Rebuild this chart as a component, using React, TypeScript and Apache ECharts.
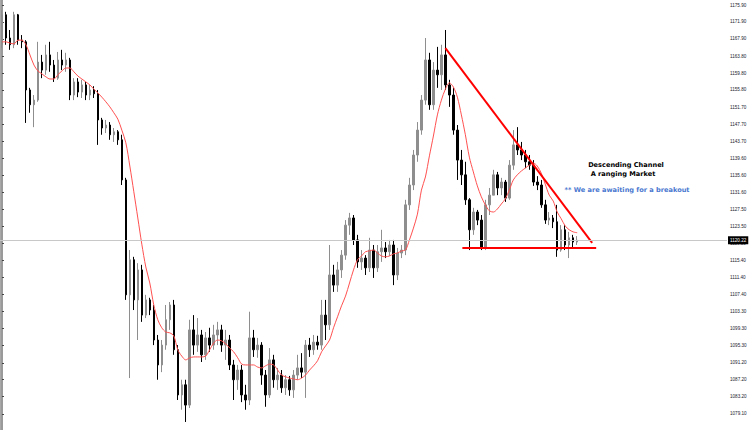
import React, { useEffect, useRef } from "react";
import * as echarts from "echarts";

const totalSlots = 182;

const opens = [
  1166.5, 1173.6, 1168.1, 1166.5, 1173.6, 1167.6, 1167.2, 1155.8, 1152.3, 1153.4,
  1162.4, 1160.5, 1164.1, 1161.7, 1158.6, 1162.9, 1161.7, 1162.9, 1154.6, 1157.7,
  1155.3, 1157.0, 1154.6, 1155.8, 1154.9, 1148.7, 1146.8, 1147.5, 1145.2, 1145.9,
  1144.0, 1134.5, 1107.3, 1115.6, 1106.1, 1113.2, 1102.5, 1106.1, 1103.7, 1096.6,
  1090.7, 1095.4, 1101.4, 1104.9, 1094.3, 1083.6, 1086.0, 1081.2, 1099.0, 1095.4,
  1097.8, 1093.1, 1097.1, 1095.4, 1097.8, 1099.0, 1095.4, 1096.6, 1090.7, 1087.2,
  1089.5, 1083.6, 1082.4, 1097.1, 1094.3, 1095.4, 1088.3, 1083.6, 1091.9, 1087.2,
  1088.3, 1085.3, 1087.2, 1084.8, 1088.3, 1090.0, 1089.0, 1095.4, 1094.3, 1096.1,
  1095.4, 1102.5, 1100.2, 1112.0, 1109.6, 1113.2, 1116.7, 1123.8, 1125.5, 1120.3,
  1115.1, 1116.0, 1113.7, 1117.9, 1113.7, 1117.5, 1118.4, 1117.5, 1119.1, 1112.0,
  1117.2, 1117.9, 1128.6, 1133.3, 1140.4, 1146.3, 1153.4, 1162.9, 1152.3, 1160.5,
  1159.4, 1164.1, 1157.0, 1154.6, 1146.3, 1139.2, 1135.7, 1129.8, 1122.7, 1126.9,
  1125.0, 1118.4, 1128.6, 1130.9, 1135.7, 1132.6, 1134.0, 1130.2, 1138.0, 1142.8,
  1141.6, 1140.4, 1138.8, 1138.0, 1134.0, 1133.3, 1128.6, 1125.0, 1125.5, 1124.6,
  1117.9, 1122.7, 1119.1, 1120.8, 1119.8,
];

const closes = [
  1173.6, 1168.1, 1166.5, 1173.6, 1167.6, 1167.2, 1155.8, 1152.3, 1153.4, 1162.4,
  1160.5, 1164.1, 1161.7, 1158.6, 1162.9, 1161.7, 1162.9, 1154.6, 1157.7, 1155.3,
  1157.0, 1154.6, 1155.8, 1154.9, 1148.7, 1146.8, 1147.5, 1145.2, 1145.9, 1144.0,
  1134.5, 1107.3, 1115.6, 1106.1, 1113.2, 1102.5, 1106.1, 1103.7, 1096.6, 1090.7,
  1095.4, 1101.4, 1104.9, 1094.3, 1083.6, 1086.0, 1081.2, 1099.0, 1095.4, 1097.8,
  1093.1, 1097.1, 1095.4, 1097.8, 1099.0, 1095.4, 1096.6, 1090.7, 1087.2, 1089.5,
  1083.6, 1082.4, 1097.1, 1094.3, 1095.4, 1088.3, 1083.6, 1091.9, 1087.2, 1088.3,
  1085.3, 1087.2, 1084.8, 1088.3, 1090.0, 1089.0, 1095.4, 1094.3, 1096.1, 1095.4,
  1102.5, 1100.2, 1112.0, 1109.6, 1113.2, 1116.7, 1123.8, 1125.5, 1120.3, 1115.1,
  1116.0, 1113.7, 1117.9, 1113.7, 1117.5, 1118.4, 1117.5, 1119.1, 1112.0, 1117.2,
  1117.9, 1128.6, 1133.3, 1140.4, 1146.3, 1153.4, 1162.9, 1152.3, 1160.5, 1159.4,
  1164.1, 1157.0, 1154.6, 1146.3, 1139.2, 1135.7, 1129.8, 1122.7, 1126.9, 1125.0,
  1118.4, 1128.6, 1130.9, 1135.7, 1132.6, 1134.0, 1130.2, 1138.0, 1142.8, 1141.6,
  1140.4, 1138.8, 1138.0, 1134.0, 1133.3, 1128.6, 1125.0, 1125.5, 1124.6, 1117.9,
  1122.7, 1119.1, 1120.8, 1119.8, 1120.22,
];

const lows = [
  1165.7, 1166.5, 1165.3, 1165.7, 1166.5, 1165.7, 1148.0, 1150.4, 1147.0, 1153.0,
  1158.6, 1159.4, 1160.1, 1157.7, 1158.2, 1160.5, 1160.1, 1153.4, 1153.4, 1154.1,
  1153.9, 1153.4, 1153.4, 1153.9, 1142.8, 1145.2, 1145.6, 1144.0, 1143.5, 1142.8,
  1133.3, 1106.1, 1087.6, 1103.7, 1096.6, 1100.9, 1101.8, 1102.5, 1095.4, 1087.2,
  1089.0, 1094.3, 1099.0, 1093.1, 1082.4, 1080.1, 1077.2, 1080.5, 1093.1, 1093.8,
  1091.4, 1091.9, 1093.8, 1094.3, 1095.4, 1093.8, 1091.9, 1089.5, 1082.4, 1084.8,
  1081.9, 1080.1, 1081.2, 1092.6, 1092.4, 1086.0, 1080.8, 1082.9, 1085.3, 1084.8,
  1084.1, 1083.6, 1083.4, 1082.9, 1087.2, 1087.6, 1082.9, 1092.6, 1093.1, 1094.3,
  1094.3, 1096.6, 1099.0, 1108.0, 1108.0, 1111.3, 1115.6, 1121.5, 1119.1, 1113.7,
  1113.2, 1112.0, 1112.7, 1111.3, 1112.7, 1115.1, 1116.0, 1116.5, 1109.6, 1110.8,
  1116.0, 1116.7, 1127.4, 1132.1, 1138.8, 1145.2, 1152.3, 1151.1, 1151.1, 1156.3,
  1155.8, 1155.8, 1151.8, 1145.2, 1134.5, 1133.3, 1128.6, 1117.9, 1121.5, 1123.8,
  1117.9, 1117.9, 1126.2, 1130.9, 1130.9, 1130.9, 1129.3, 1129.8, 1136.9, 1140.4,
  1139.2, 1137.3, 1136.9, 1133.1, 1132.1, 1127.9, 1124.1, 1123.8, 1123.1, 1116.3,
  1117.5, 1117.9, 1116.0, 1118.4, 1119.1,
];

const highs = [
  1174.7, 1174.3, 1170.0, 1174.3, 1173.8, 1168.8, 1167.6, 1156.3, 1154.6, 1167.2,
  1164.1, 1166.5, 1167.2, 1162.9, 1164.8, 1165.3, 1164.6, 1163.4, 1158.6, 1158.6,
  1158.2, 1157.7, 1157.0, 1156.7, 1155.8, 1149.2, 1148.7, 1148.2, 1146.8, 1146.3,
  1145.2, 1135.0, 1117.9, 1116.3, 1114.8, 1114.4, 1107.3, 1106.6, 1104.9, 1097.8,
  1096.6, 1104.9, 1105.6, 1106.1, 1095.4, 1087.2, 1087.2, 1101.4, 1102.5, 1101.8,
  1099.0, 1098.5, 1099.5, 1100.2, 1100.9, 1100.2, 1099.0, 1097.8, 1091.9, 1090.7,
  1090.7, 1086.0, 1103.3, 1099.0, 1097.1, 1096.1, 1089.5, 1094.7, 1093.1, 1090.0,
  1089.5, 1088.3, 1088.1, 1089.5, 1093.1, 1093.5, 1096.6, 1097.1, 1097.8, 1097.6,
  1106.1, 1106.1, 1119.1, 1114.4, 1115.1, 1117.9, 1125.0, 1126.7, 1126.2, 1121.5,
  1117.9, 1116.7, 1120.8, 1119.1, 1119.1, 1122.7, 1119.8, 1120.3, 1120.3, 1118.4,
  1119.1, 1129.8, 1135.0, 1141.6, 1148.2, 1154.6, 1168.1, 1164.6, 1162.4, 1166.0,
  1166.5, 1170.0, 1158.2, 1156.3, 1147.5, 1141.6, 1138.8, 1130.2, 1127.9, 1127.4,
  1126.2, 1129.8, 1132.6, 1136.9, 1136.4, 1135.0, 1134.5, 1139.2, 1146.3, 1147.0,
  1143.5, 1141.6, 1140.4, 1139.2, 1135.4, 1134.5, 1129.8, 1126.9, 1126.2, 1128.6,
  1123.8, 1123.8, 1122.2, 1121.5, 1121.2,
];

const movingAverage = [
  1167.2, 1167.2, 1166.9, 1166.7, 1167.6, 1167.6, 1166.5, 1164.1, 1161.7, 1160.3,
  1159.6, 1158.9, 1158.4, 1158.4, 1159.4, 1160.3, 1161.0, 1161.0, 1160.1, 1159.1,
  1158.4, 1157.7, 1157.0, 1156.0, 1155.1, 1154.1, 1153.0, 1151.8, 1150.4, 1148.9,
  1146.3, 1143.3, 1137.8, 1131.7, 1125.5, 1119.3, 1113.9, 1110.1, 1104.9, 1101.4,
  1099.5, 1098.5, 1098.3, 1097.6, 1094.3, 1092.8, 1091.9, 1092.4, 1092.6, 1092.6,
  1092.6, 1092.8, 1094.3, 1095.9, 1096.6, 1096.4, 1095.7, 1094.7, 1093.8, 1092.4,
  1090.9, 1090.7, 1090.7, 1090.7, 1090.2, 1090.0, 1090.5, 1090.9, 1090.7, 1089.5,
  1088.3, 1087.9, 1087.6, 1087.4, 1087.2, 1087.6, 1088.3, 1089.5, 1090.5, 1091.7,
  1093.8, 1095.2, 1096.6, 1099.5, 1102.1, 1104.7, 1107.0, 1110.1, 1113.2, 1115.6,
  1116.5, 1117.5, 1117.7, 1117.9, 1117.2, 1116.5, 1116.3, 1116.5, 1117.0, 1117.2,
  1117.7, 1117.9, 1120.3, 1123.1, 1126.4, 1132.1, 1135.2, 1140.2, 1144.9, 1149.9,
  1153.4, 1156.0, 1157.5, 1156.5, 1154.1, 1149.9, 1145.2, 1139.9, 1136.4, 1133.1,
  1130.5, 1128.6, 1127.2, 1126.9, 1127.6, 1128.8, 1130.0, 1132.1, 1134.5, 1135.7,
  1136.6, 1137.3, 1138.0, 1138.5, 1137.8, 1136.1, 1133.5, 1130.9, 1129.5, 1126.9,
  1125.3, 1123.6, 1122.7, 1122.2, 1122.0,
];

const tickValues = [
  1175.9, 1171.9, 1167.9, 1163.8, 1159.8, 1155.8, 1151.7, 1147.7, 1143.7, 1139.6,
  1135.6, 1131.6, 1127.5, 1123.5, 1119.5, 1115.4, 1111.4, 1107.4, 1103.3, 1099.3,
  1095.3, 1091.2, 1087.2, 1083.2, 1079.1,
];

const lastPrice = 1120.22;
const yMin = 1075.3;
const yMax = 1177.1;

// trendline endpoints: [bar index, price]
const resistanceLine = [
  [111, 1165.7],
  [147.75, 1119.6],
];
const supportLine = [
  [115.25, 1118.4],
  [148.75, 1118.4],
];

const noteTitle = "Descending Channel";
const noteSubtitle = "A ranging Market";
const noteBlue = "** We are awaiting for a breakout";

export default function App() {
  const ref = useRef<HTMLDivElement>(null);

  useEffect(() => {
    if (!ref.current) return;
    const chart = echarts.init(ref.current, null, { renderer: "svg" });
    const categories = Array.from({ length: totalSlots }, (_, i) => String(i + 1));
    const candleData = opens.map((o, i) => [o, closes[i], lows[i], highs[i]]);

    chart.setOption({
      animation: false,
      backgroundColor: "#ffffff",
      grid: { left: 0, right: 23, top: 0, bottom: 0 },
      xAxis: [
        { type: "category", data: categories, show: false, boundaryGap: true },
        { type: "value", min: -0.5, max: totalSlots - 0.5, show: false },
      ],
      yAxis: {
        type: "value",
        position: "right",
        min: yMin,
        max: yMax,
        axisLine: { show: true, lineStyle: { color: "#9a9a9a", width: 2 } },
        axisTick: {
          show: true,
          length: 2,
          customValues: tickValues,
          lineStyle: { color: "#444", width: 1 },
        },
        axisLabel: {
          customValues: tickValues,
          formatter: (v: number) => v.toFixed(2),
          fontSize: 4.6,
          color: "#1a1a2e",
          margin: 3,
          fontFamily: "Liberation Sans",
        },
        splitLine: { show: false },
      },
      series: [
        {
          type: "candlestick",
          data: candleData,
          barWidth: 2,
          itemStyle: {
            color: "#8e8e8e",
            color0: "#000000",
            borderColor: "#8e8e8e",
            borderColor0: "#000000",
            borderWidth: 1,
          },
          markLine: {
            silent: true,
            symbol: ["none", "none"],
            data: [{ yAxis: lastPrice }],
            lineStyle: { color: "#c8c8c8", width: 1, type: "solid" },
            label: {
              show: true,
              position: "end",
              formatter: lastPrice.toFixed(2),
              backgroundColor: "#000",
              color: "#fff",
              fontSize: 4.6,
              fontFamily: "Liberation Sans",
              padding: [1.5, 2],
              distance: 1,
            },
            z: 10,
          },
        },
        {
          type: "line",
          data: movingAverage,
          symbol: "none",
          smooth: 0.3,
          lineStyle: { color: "#ff5050", width: 1 },
          z: 3,
        },
        {
          type: "line",
          xAxisIndex: 1,
          data: resistanceLine,
          symbol: "none",
          lineStyle: { color: "#ff0000", width: 2 },
          z: 4,
        },
        {
          type: "line",
          xAxisIndex: 1,
          data: supportLine,
          symbol: "none",
          lineStyle: { color: "#ff0000", width: 2 },
          z: 4,
        },
      ],
      graphic: [
        {
          type: "line",
          shape: { x1: 0.5, y1: 0, x2: 0.5, y2: 430 },
          style: { stroke: "#a8a8a8", lineWidth: 1 },
        },
        {
          type: "text",
          x: 626,
          y: 165,
          style: {
            text: noteTitle,
            fill: "#000",
            font: 'bold 6.6px "DejaVu Sans"',
            align: "center",
            verticalAlign: "middle",
          },
        },
        {
          type: "text",
          x: 623,
          y: 174,
          style: {
            text: noteSubtitle,
            fill: "#000",
            font: 'bold 6.6px "DejaVu Sans"',
            align: "center",
            verticalAlign: "middle",
          },
        },
        {
          type: "text",
          x: 627,
          y: 190,
          style: {
            text: noteBlue,
            fill: "#4a78d0",
            font: 'bold 6.6px "DejaVu Sans"',
            align: "center",
            verticalAlign: "middle",
          },
        },
      ],
    });

    return () => chart.dispose();
  }, []);

  return (
    <div
      ref={ref}
      style={{ position: "fixed", left: 0, top: 0, width: 750, height: 430, background: "#fff" }}
    />
  );
}
